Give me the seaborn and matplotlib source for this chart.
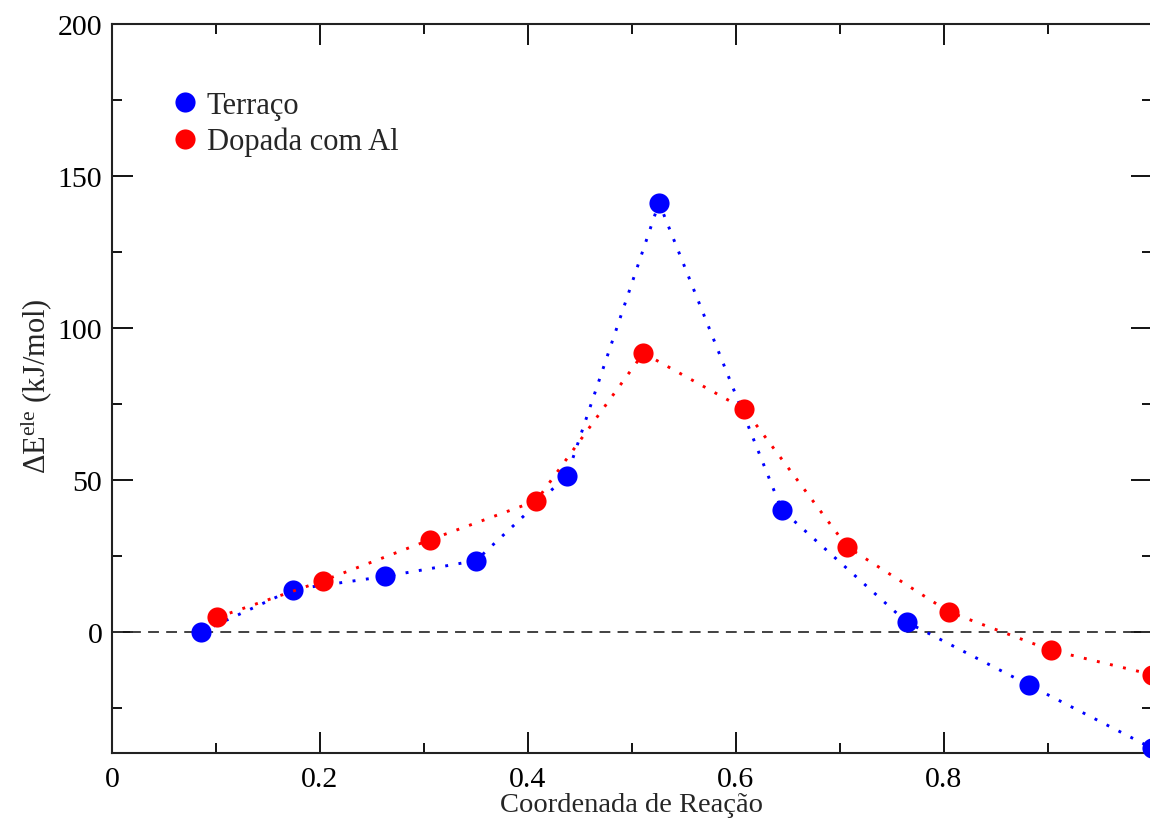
import numpy as np
import pandas as pd
import seaborn as sns
import matplotlib.pyplot as plt
from matplotlib.lines import Line2D
from matplotlib.ticker import MultipleLocator

# values
terraco_x = [0.086, 0.174, 0.2625, 0.35, 0.4375, 0.526, 0.644, 0.764, 0.882, 1.0]
terraco_y = [0.0, 13.9, 18.2, 23.4, 51.4, 141.2, 40.1, 3.2, -17.6, -38.3]
dopada_x = [0.101, 0.203, 0.306, 0.408, 0.511, 0.608, 0.707, 0.805, 0.903, 1.0]
dopada_y = [4.7, 16.8, 30.3, 43.1, 91.7, 73.3, 27.9, 6.5, -6.1, -14.1]
series_names = ['Terraço', 'Dopada com Al']
series_colors = ['blue', 'red']
x_ticks = [0, 0.2, 0.4, 0.6, 0.8, 1.0]
x_tick_labels = ['0', '0.2', '0.4', '0.6', '0.8', '']  # "1" falls off the cropped edge

df = pd.concat([
    pd.DataFrame({'x': terraco_x, 'y': terraco_y, 'serie': series_names[0]}),
    pd.DataFrame({'x': dopada_x, 'y': dopada_y, 'serie': series_names[1]}),
])

sns.set_style('ticks')
plt.rcParams['font.family'] = ['Liberation Serif', 'DejaVu Serif']
plt.rcParams['mathtext.fontset'] = 'custom'
plt.rcParams['mathtext.rm'] = 'Liberation Serif'
plt.rcParams['mathtext.it'] = 'Liberation Serif:italic'

fig = plt.figure(figsize=(11.5, 8.2), dpi=100)
# right spine lies just past the picture edge, like the cropped original
ax = fig.add_axes([112 / 1150, 65.7 / 820, 1040 / 1150, 729.3 / 820])

palette = dict(zip(series_names, series_colors))
sns.lineplot(data=df, x='x', y='y', hue='serie', palette=palette, sort=False,
             marker='o', markersize=14.5, markeredgewidth=0,
             linestyle=(0, (1, 3.6)), linewidth=2.1, legend=False, ax=ax,
             clip_on=False, zorder=3)

# dashed zero line
ax.axhline(0, color='#333333', linestyle=(0, (6, 4)), linewidth=1.3, zorder=1)

ax.set_xlim(0, 1)
ax.set_ylim(-40, 200)
ax.set_xticks(x_ticks)
ax.set_xticklabels(x_tick_labels)
ax.xaxis.set_minor_locator(MultipleLocator(0.1))
ax.yaxis.set_major_locator(MultipleLocator(50))
ax.yaxis.set_minor_locator(MultipleLocator(25))
ax.tick_params(which='both', direction='in', top=True, right=True,
               labelsize=21.5, width=1.3, colors='black')
ax.tick_params(which='major', length=15)
ax.tick_params(which='minor', length=7.5)
ax.tick_params(axis='y', which='major', pad=7)
ax.tick_params(axis='x', which='major', pad=9)
for s in ax.spines.values():
    s.set_linewidth(1.5)
    s.set_color('#222222')

ax.set_xlabel('Coordenada de Reação', fontsize=20.5)
ax.xaxis.set_label_coords(0.5, -0.0873)
ax.xaxis.label.set_va('bottom')
ax.set_ylabel(r'$\Delta$E$^{\rm ele}$ (kJ/mol)', fontsize=22)
ax.yaxis.set_label_coords(-0.0548, 0.505)

handles = [Line2D([], [], marker='o', linestyle='none', color=c,
                  markersize=14.5, markeredgewidth=0) for c in series_colors]
ax.legend(handles, series_names, loc='upper left', bbox_to_anchor=(0.0587, 0.908),
          frameon=False, fontsize=22, handlelength=0.8, handletextpad=0.3,
          labelspacing=0.22, borderpad=0, borderaxespad=0)

fig.savefig('out.png', dpi=100)
